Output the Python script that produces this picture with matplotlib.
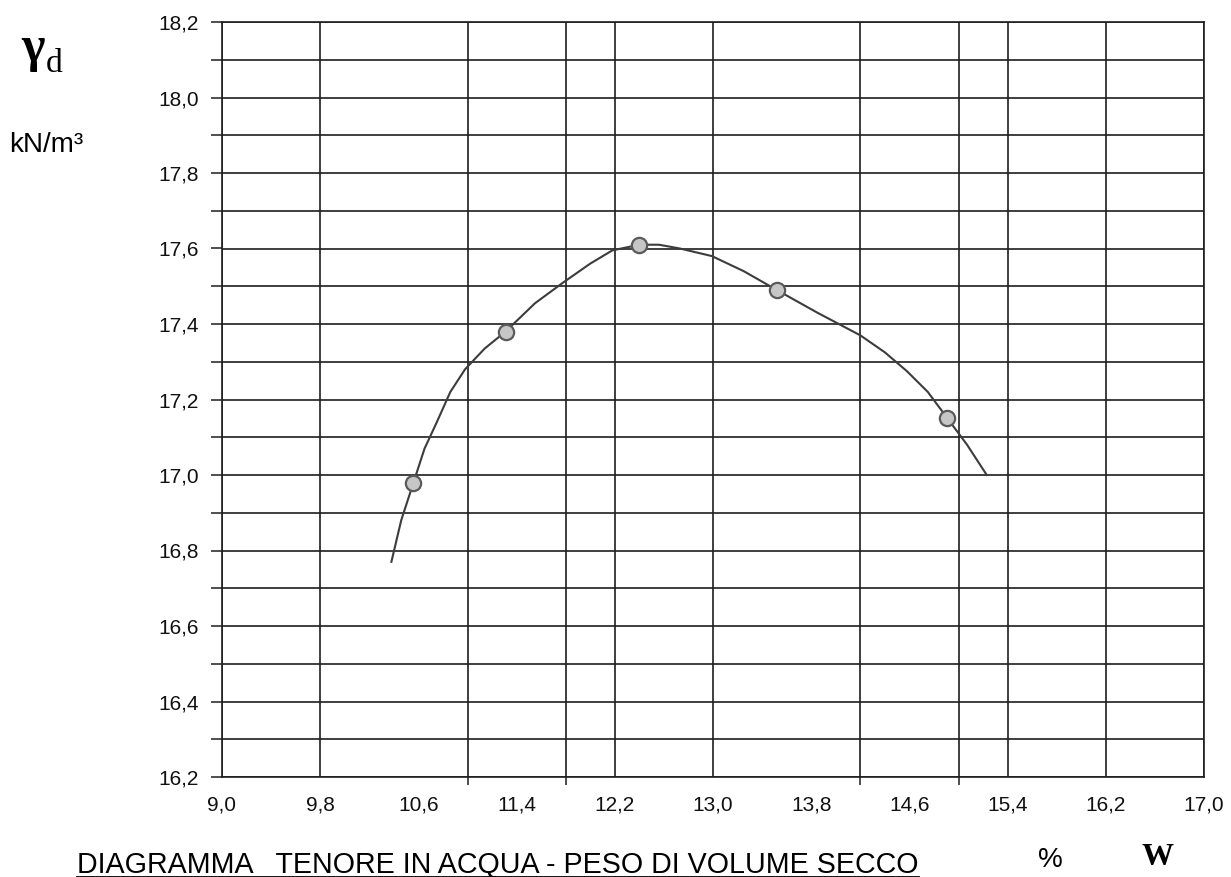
import matplotlib
matplotlib.use("Agg")
import matplotlib.pyplot as plt
from matplotlib.lines import Line2D
from matplotlib.ticker import FuncFormatter

# measured points (water content %, dry unit weight kN/m3)
w_pts = [10.56, 11.31, 12.40, 13.52, 14.91]
gd_pts = [16.98, 17.38, 17.61, 17.49, 17.15]

# fitted curve
w_curve = [10.38, 10.46, 10.56, 10.65, 10.75, 10.86, 10.98, 11.14, 11.31, 11.55,
           11.78, 12.00, 12.18, 12.40, 12.56, 12.73, 12.99, 13.25, 13.52, 13.85,
           14.20, 14.40, 14.58, 14.75, 14.91, 15.07, 15.23]
gd_curve = [16.77, 16.88, 16.98, 17.07, 17.14, 17.22, 17.28, 17.335, 17.38, 17.455,
            17.51, 17.56, 17.595, 17.61, 17.61, 17.60, 17.58, 17.54, 17.49, 17.43,
            17.37, 17.325, 17.275, 17.22, 17.15, 17.08, 17.00]

# axis ticks / grid
x_labels = [9.0, 9.8, 10.6, 11.4, 12.2, 13.0, 13.8, 14.6, 15.4, 16.2, 17.0]
x_grid = [9.0, 9.8, 11.0, 11.8, 12.2, 13.0, 14.2, 15.0, 15.4, 16.2, 17.0]
y_labels = [16.2, 16.4, 16.6, 16.8, 17.0, 17.2, 17.4, 17.6, 17.8, 18.0, 18.2]
y_grid = [16.2 + 0.1 * i for i in range(21)]

W, H = 1231, 877
fig = plt.figure(figsize=(W / 100, H / 100), dpi=100)
ax = fig.add_axes([222 / W, 1 - 777 / H, (1204 - 222) / W, (777 - 22) / H])

sans = "Liberation Sans"
serif = "Liberation Serif"
gc = "#1e1e1e"

ax.set_xlim(9.0, 17.0)
ax.set_ylim(16.2, 18.2)

comma = FuncFormatter(lambda v, p: f"{v:.1f}".replace(".", ","))

ax.set_xticks(x_labels)
ax.xaxis.set_major_formatter(comma)
ax.set_xticks(x_grid, minor=True)
ax.set_yticks(y_labels)
ax.yaxis.set_major_formatter(comma)
ax.set_yticks(y_grid, minor=True)

ax.tick_params(axis="x", which="major", length=0, pad=13, labelsize=15, colors="#111111")
ax.tick_params(axis="x", which="minor", length=6, width=1.1, color=gc)
ax.tick_params(axis="y", which="both", length=8, width=1.1, color=gc, pad=8.5,
               labelsize=15, labelcolor="#111111")
for lab in ax.get_xticklabels() + ax.get_yticklabels():
    lab.set_fontfamily(sans)

for xv in x_grid:
    ax.axvline(xv, color=gc, lw=1.2, zorder=1)
for yv in y_grid:
    ax.axhline(yv, color=gc, lw=1.2, zorder=1)
for s in ax.spines.values():
    s.set_color(gc)
    s.set_linewidth(1.2)

ax.plot(w_curve, gd_curve, color="#3c3c3c", lw=1.5, zorder=3)
ax.plot(w_pts, gd_pts, "o", ms=11, mfc="#c6c6c6", mec="#5a5a5a", mew=1.6, zorder=4)

# left labels
fig.text(21 / W, 1 - 72 / H, "γ", fontsize=36, family=serif, weight="bold", va="bottom")
fig.text(46 / W, 1 - 72 / H, "d", fontsize=24, family=serif, va="baseline")
fig.text(9 / W, 1 - 152 / H, "kN/m³", fontsize=20, family=sans, va="baseline")

# bottom labels
title = fig.text(77 / W, 1 - 873 / H, "DIAGRAMMA   TENORE IN ACQUA - PESO DI VOLUME SECCO",
                 fontsize=20.6, family=sans, va="baseline")
fig.text(1050 / W, 1 - 867 / H, "%", fontsize=20, family=sans, va="baseline", ha="center")
fig.text(1158 / W, 1 - 865 / H, "W", fontsize=23, family=serif, weight="bold",
         va="baseline", ha="center")

fig.canvas.draw()
bb = title.get_window_extent()
uy = H - 876.5
fig.add_artist(Line2D([bb.x0 / W, bb.x1 / W], [uy / H, uy / H], color="black", lw=1.3))

fig.savefig("out.png", dpi=100)
